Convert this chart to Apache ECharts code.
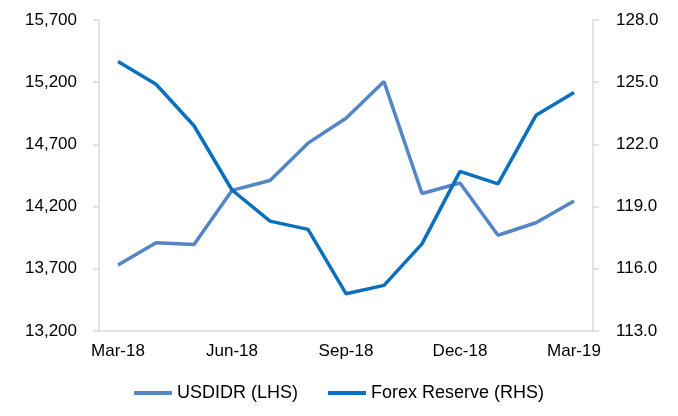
<!DOCTYPE html>
<html>
<head>
<meta charset="utf-8">
<script src="https://cdn.jsdelivr.net/npm/echarts@6/dist/echarts.min.js"></script>
<style>
  html, body { margin: 0; padding: 0; background: #fff; }
  #chart { width: 678px; height: 416px; }
</style>
</head>
<body>
<div id="chart"></div>
<script>
// months, Mar-18 .. Mar-19
const months = ["Mar-18", "Apr-18", "May-18", "Jun-18", "Jul-18", "Aug-18", "Sep-18",
  "Oct-18", "Nov-18", "Dec-18", "Jan-19", "Feb-19", "Mar-19"];
// USDIDR, left axis
const usdidr = [13730, 13910, 13895, 14330, 14410, 14710, 14910, 15205, 14305, 14390, 13970, 14070, 14245];
// forex reserve (USD bn), right axis
const forexReserve = [126.0, 124.9, 122.9, 119.8, 118.3, 117.9, 114.8, 115.2, 117.2, 120.7, 120.1, 123.4, 124.5];

const axisGrey = "#d9d9d9";
const textStyle = { color: "#000", fontSize: 17, fontFamily: "Liberation Sans, Arial, sans-serif" };

const chart = echarts.init(document.getElementById("chart"), null, { renderer: "canvas" });

chart.setOption({
  animation: false,
  backgroundColor: "#fff",
  grid: { left: 99, right: 85, top: 20, bottom: 85 },
  legend: {
    bottom: 9,
    left: "center",
    itemWidth: 38,
    itemHeight: 4,
    itemGap: 30,
    icon: "rect",
    textStyle: Object.assign({}, textStyle, { fontSize: 18 }),
    data: ["USDIDR (LHS)", "Forex Reserve (RHS)"]
  },
  xAxis: {
    type: "category",
    data: months,
    boundaryGap: true,
    axisLine: { lineStyle: { color: axisGrey, width: 1.5 } },
    axisTick: { interval: 2, length: 6, lineStyle: { color: axisGrey, width: 1.5 } },
    axisLabel: Object.assign({ interval: 2, margin: 12 }, textStyle)
  },
  yAxis: [
    {
      type: "value",
      min: 13200,
      max: 15700,
      interval: 500,
      position: "left",
      splitLine: { show: false },
      axisLine: { show: true, lineStyle: { color: axisGrey, width: 1.5 } },
      axisTick: { show: true, length: 6, lineStyle: { color: axisGrey, width: 1.5 } },
      axisLabel: Object.assign({
        margin: 22,
        formatter: function (v) { return v.toLocaleString("en-US"); }
      }, textStyle)
    },
    {
      type: "value",
      min: 113,
      max: 128,
      interval: 3,
      position: "right",
      splitLine: { show: false },
      axisLine: { show: true, lineStyle: { color: axisGrey, width: 1.5 } },
      axisTick: { show: true, length: 6, lineStyle: { color: axisGrey, width: 1.5 } },
      axisLabel: Object.assign({
        margin: 23,
        formatter: function (v) { return v.toFixed(1); }
      }, textStyle)
    }
  ],
  series: [
    {
      name: "USDIDR (LHS)",
      type: "line",
      yAxisIndex: 0,
      data: usdidr,
      symbol: "none",
      color: "#5585c4",
      lineStyle: { width: 3.5, color: "#5585c4" }
    },
    {
      name: "Forex Reserve (RHS)",
      type: "line",
      yAxisIndex: 1,
      data: forexReserve,
      symbol: "none",
      color: "#0a70bd",
      lineStyle: { width: 3.5, color: "#0a70bd" }
    }
  ]
});
</script>
</body>
</html>
